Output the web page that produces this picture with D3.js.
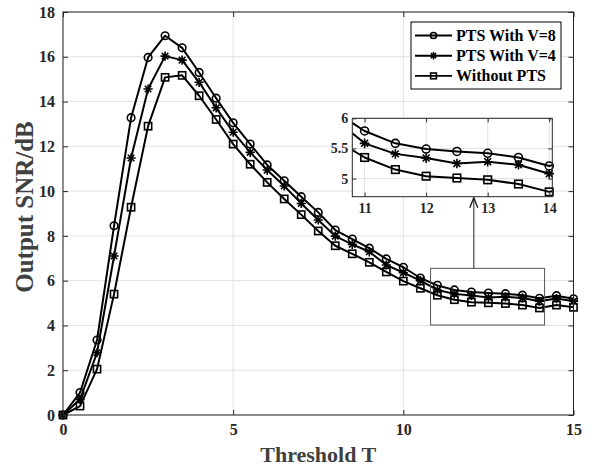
<!DOCTYPE html>
<html><head><meta charset="utf-8">
<script src="https://cdn.jsdelivr.net/npm/d3@7/dist/d3.min.js"></script>
<style>
html,body{margin:0;padding:0;background:#fff;}
svg{display:block;}
text{font-family:"Liberation Serif","Times New Roman",serif;font-weight:bold;}
</style></head>
<body>
<svg id="chart" width="591" height="466"></svg>
<script>
// ---- data ----
const thresholds = [0,0.5,1,1.5,2,2.5,3,3.5,4,4.5,5,5.5,6,6.5,7,7.5,8,8.5,9,9.5,10,10.5,11,11.5,12,12.5,13,13.5,14,14.5,15];
const snrV8 = [0,1.0,3.35,8.45,13.28,15.97,16.94,16.4,15.3,14.15,13.05,12.1,11.17,10.46,9.75,9.05,8.26,7.86,7.45,6.97,6.6,6.12,5.79,5.585,5.49,5.45,5.42,5.35,5.21,5.33,5.19];
const snrV4 = [0,0.7,2.78,7.1,11.48,14.56,16.03,15.85,14.86,13.72,12.63,11.73,10.94,10.23,9.45,8.71,7.99,7.62,7.29,6.7,6.36,6.0,5.585,5.41,5.34,5.25,5.28,5.23,5.08,5.2,5.08];
const snrNoPTS = [0,0.4,2.05,5.4,9.28,12.9,15.08,15.17,14.26,13.2,12.1,11.2,10.39,9.65,8.95,8.22,7.56,7.2,6.82,6.39,5.98,5.66,5.35,5.15,5.04,5.01,4.98,4.91,4.78,4.91,4.81];
const seriesNames = ["PTS With V=8","PTS With V=4","Without PTS"];
const seriesMarkers = ["circle","star","square"];
const xTicks = [0,5,10,15];
const yTicks = [0,2,4,6,8,10,12,14,16,18];
const insetXTicks = [11,12,13,14];
const insetYTicks = [5,5.5,6];
const insetYTickLabels = ["5","5.5","6"];
const xDomain = [0,15], yDomain = [0,18];
const insetXDomain = [10.8,14.05], insetYDomain = [4.7,6];
const zoomBoxX = [10.8,14.15], zoomBoxY = [4.02,6.55];
const arrowX = 12.07;
const xLabel = "Threshold T", yLabel = "Output SNR/dB";

const allSeries = [snrV8, snrV4, snrNoPTS].map((vals,i)=>({
  name: seriesNames[i], marker: seriesMarkers[i],
  pts: thresholds.map((t,j)=>({x:t,y:vals[j]}))
}));

const svg = d3.select("#chart");
const AX = "#262626", GRID = "#e2e2e2";

function drawMarker(g, type, cx, cy, s){
  if(type==="circle"){
    g.append("circle").attr("cx",cx).attr("cy",cy).attr("r",3.8*s)
      .attr("fill","none").attr("stroke","#000").attr("stroke-width",1.6);
  } else if(type==="square"){
    const h=3.6*s;
    g.append("rect").attr("x",cx-h).attr("y",cy-h).attr("width",2*h).attr("height",2*h)
      .attr("fill","none").attr("stroke","#000").attr("stroke-width",1.6);
  } else {
    const r=4.6*s, d=r*0.7071;
    g.append("path").attr("d",`M${cx-r},${cy}L${cx+r},${cy}M${cx},${cy-r}L${cx},${cy+r}M${cx-d},${cy-d}L${cx+d},${cy+d}M${cx-d},${cy+d}L${cx+d},${cy-d}`)
      .attr("stroke","#000").attr("stroke-width",1.6).attr("fill","none");
  }
}

// ---- main axes ----
const L=63, R=573.5, T=12, B=415;
const x = d3.scaleLinear().domain(xDomain).range([L,R]);
const y = d3.scaleLinear().domain(yDomain).range([B,T]);

const grid = svg.append("g");
xTicks.forEach(t=>grid.append("line").attr("x1",x(t)).attr("x2",x(t)).attr("y1",T).attr("y2",B).attr("stroke",GRID).attr("stroke-width",1));
yTicks.forEach(t=>grid.append("line").attr("x1",L).attr("x2",R).attr("y1",y(t)).attr("y2",y(t)).attr("stroke",GRID).attr("stroke-width",1));

const line = d3.line().x(d=>x(d.x)).y(d=>y(d.y));
const plotG = svg.append("g");
allSeries.forEach(s=>{
  plotG.append("path").attr("d",line(s.pts)).attr("fill","none").attr("stroke","#000").attr("stroke-width",2).attr("stroke-linejoin","round");
});
allSeries.forEach(s=>{
  const mg = plotG.append("g");
  s.pts.forEach(p=>drawMarker(mg, s.marker, x(p.x), y(p.y), 1));
});

function styleAxis(g){ g.select(".domain").remove(); g.selectAll("line").attr("stroke",AX); g.selectAll("text").attr("fill",AX).style("font-size","16px").style("font-family",'"Liberation Serif","Times New Roman",serif').style("font-weight","bold"); }
svg.append("g").attr("transform",`translate(0,${B})`).call(d3.axisBottom(x).tickValues(xTicks).tickSize(-5).tickPadding(9).tickFormat(d3.format("d"))).call(styleAxis);
svg.append("g").attr("transform",`translate(0,${T})`).call(d3.axisTop(x).tickValues(xTicks).tickSize(-5).tickFormat("")).call(styleAxis);
svg.append("g").attr("transform",`translate(${L},0)`).call(d3.axisLeft(y).tickValues(yTicks).tickSize(-5).tickPadding(8).tickFormat(d3.format("d"))).call(styleAxis);
svg.append("g").attr("transform",`translate(${R},0)`).call(d3.axisRight(y).tickValues(yTicks).tickSize(-5).tickFormat("")).call(styleAxis);
svg.append("rect").attr("x",L).attr("y",T).attr("width",R-L).attr("height",B-T).attr("fill","none").attr("stroke",AX).attr("stroke-width",1);

// axis labels
svg.append("text").attr("x",(L+R)/2).attr("y",462).attr("text-anchor","middle").attr("fill","#404040").style("font-size","22px").text(xLabel);
svg.append("text").attr("transform",`translate(33,207) rotate(-90)`).attr("text-anchor","middle").attr("fill","#404040").style("font-size","25px").text(yLabel);

// ---- zoom box + arrow ----
svg.append("rect").attr("x",x(zoomBoxX[0])).attr("y",y(zoomBoxY[1])).attr("width",x(zoomBoxX[1])-x(zoomBoxX[0])).attr("height",y(zoomBoxY[0])-y(zoomBoxY[1]))
  .attr("fill","none").attr("stroke","#555").attr("stroke-width",1);

// ---- inset ----
const iL=352.3, iR=552.3, iT=118.3, iB=196.7;
const xi = d3.scaleLinear().domain(insetXDomain).range([iL,iR]);
const yi = d3.scaleLinear().domain(insetYDomain).range([iB,iT]);
const ax = x(arrowX);
svg.append("line").attr("x1",ax).attr("x2",ax).attr("y1",y(zoomBoxY[1])).attr("y2",iB+1).attr("stroke","#333").attr("stroke-width",1.1);
svg.append("path").attr("d",`M${ax-4},${iB+11}L${ax},${iB+1}L${ax+4},${iB+11}`).attr("fill","none").attr("stroke","#222").attr("stroke-width",1.4);

const ig = svg.append("g");
ig.append("rect").attr("x",iL).attr("y",iT).attr("width",iR-iL).attr("height",iB-iT).attr("fill","#fff");
insetXTicks.forEach(t=>ig.append("line").attr("x1",xi(t)).attr("x2",xi(t)).attr("y1",iT).attr("y2",iB).attr("stroke",GRID));
insetYTicks.forEach(t=>ig.append("line").attr("x1",iL).attr("x2",iR).attr("y1",yi(t)).attr("y2",yi(t)).attr("stroke",GRID));
svg.append("clipPath").attr("id","insetClip").append("rect").attr("x",iL).attr("y",iT).attr("width",iR-iL).attr("height",iB-iT);
const lineI = d3.line().x(d=>xi(d.x)).y(d=>yi(d.y));
const ic = ig.append("g").attr("clip-path","url(#insetClip)");
allSeries.forEach(s=>{
  ic.append("path").attr("d",lineI(s.pts)).attr("fill","none").attr("stroke","#000").attr("stroke-width",2).attr("stroke-linejoin","round");
});
allSeries.forEach(s=>{
  const mg = ig.append("g");
  s.pts.filter(p=>p.x>=insetXDomain[0]&&p.x<=insetXDomain[1]).forEach(p=>drawMarker(mg, s.marker, xi(p.x), yi(p.y), 1.05));
});
function styleInset(g){ styleAxis(g); g.selectAll("text").style("font-size","14px"); }
ig.append("g").attr("transform",`translate(0,${iB})`).call(d3.axisBottom(xi).tickValues(insetXTicks).tickSize(-4).tickPadding(6).tickFormat(d3.format("d"))).call(styleInset);
ig.append("g").attr("transform",`translate(0,${iT})`).call(d3.axisTop(xi).tickValues(insetXTicks).tickSize(-4).tickFormat("")).call(styleInset);
ig.append("g").attr("transform",`translate(${iL},0)`).call(d3.axisLeft(yi).tickValues(insetYTicks).tickSize(-4).tickPadding(4).tickFormat((d,i)=>insetYTickLabels[i])).call(styleInset);
ig.append("g").attr("transform",`translate(${iR},0)`).call(d3.axisRight(yi).tickValues(insetYTicks).tickSize(-4).tickFormat("")).call(styleInset);
ig.append("rect").attr("x",iL).attr("y",iT).attr("width",iR-iL).attr("height",iB-iT).attr("fill","none").attr("stroke",AX).attr("stroke-width",1);

// ---- legend ----
const lg = svg.append("g");
lg.append("rect").attr("x",411).attr("y",22).attr("width",150).attr("height",67).attr("fill","#fff").attr("stroke","#000").attr("stroke-width",1);
allSeries.forEach((s,i)=>{
  const cy = 35.5 + i*20.2;
  lg.append("line").attr("x1",415).attr("x2",452).attr("y1",cy).attr("y2",cy).attr("stroke","#000").attr("stroke-width",1.9);
  drawMarker(lg, s.marker, 433.5, cy, 0.8);
  lg.append("text").attr("x",456).attr("y",cy+5.5).attr("fill","#000").style("font-size","16px").text(s.name);
});
</script>
</body></html>
